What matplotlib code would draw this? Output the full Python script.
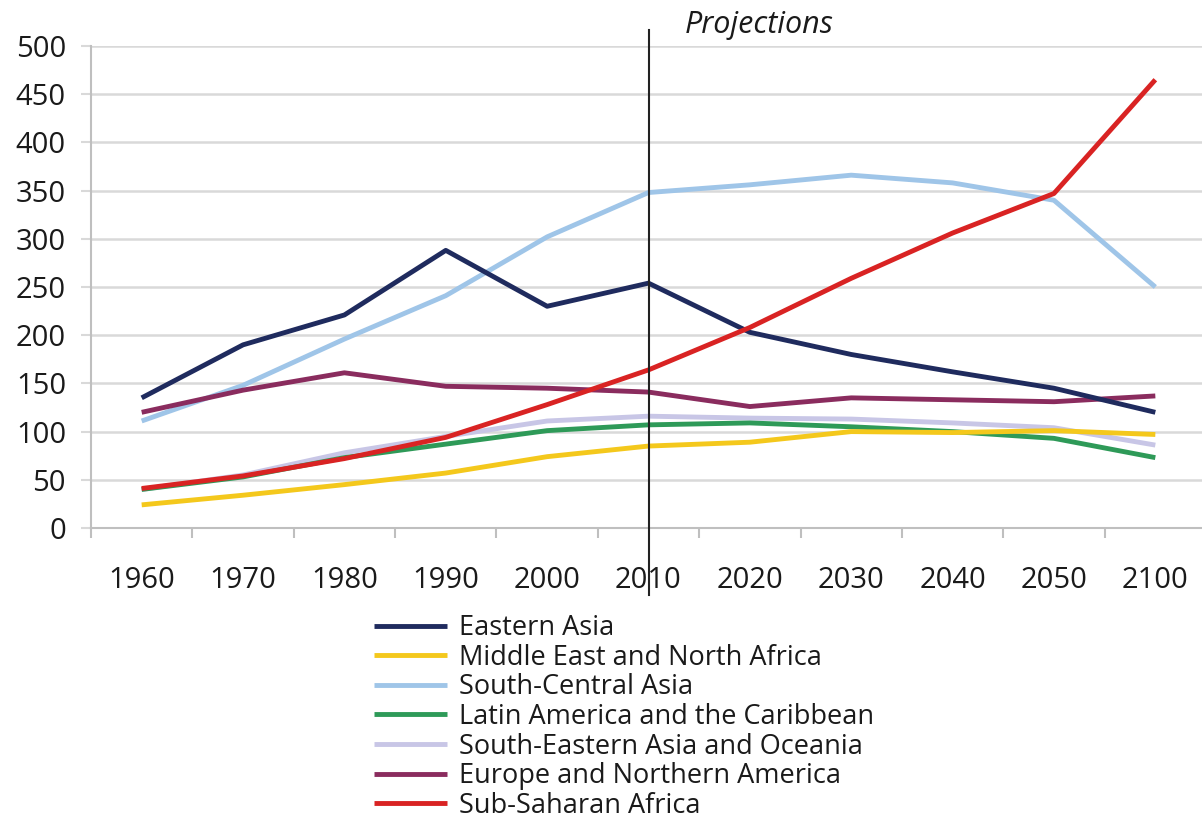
import matplotlib
matplotlib.use("Agg")
import matplotlib.pyplot as plt

plt.rcParams["font.family"] = ["Open Sans", "DejaVu Sans"]

years = ["1960", "1970", "1980", "1990", "2000", "2010", "2020", "2030", "2040", "2050", "2100"]

eastern_asia = [135, 190, 221, 288, 230, 254, 203, 180, 162, 145, 120]
mena = [24, 34, 45, 57, 74, 85, 89, 100, 99, 101, 97]
south_central_asia = [111, 148, 196, 241, 302, 348, 356, 366, 358, 340, 250]
latin_america = [40, 53, 73, 87, 101, 107, 109, 105, 100, 93, 73]
se_asia_oceania = [40, 55, 78, 95, 111, 116, 114, 113, 109, 104, 86]
europe_na = [120, 143, 161, 147, 145, 141, 126, 135, 133, 131, 137]
sub_saharan = [41, 54, 72, 94, 128, 164, 208, 259, 306, 347, 465]

series = [
    ("Eastern Asia", eastern_asia, "#1f2b5e"),
    ("Middle East and North Africa", mena, "#f4c81c"),
    ("South-Central Asia", south_central_asia, "#9fc5e8"),
    ("Latin America and the Caribbean", latin_america, "#2e9a58"),
    ("South-Eastern Asia and Oceania", se_asia_oceania, "#c8c6e6"),
    ("Europe and Northern America", europe_na, "#8a2c5e"),
    ("Sub-Saharan Africa", sub_saharan, "#d92323"),
]

# draw order: lower lines first so the main ones sit on top
draw_order = [4, 3, 1, 2, 5, 0, 6]

fig = plt.figure(figsize=(12.02, 8.22), dpi=100)
ax = fig.add_axes([91 / 1202, 294 / 822, 1115 / 1202, 482 / 822])

x = list(range(len(years)))
handles = {}
for i in draw_order:
    name, vals, color = series[i]
    (ln,) = ax.plot(x, vals, color=color, lw=3.5, label=name, solid_capstyle="butt")
    handles[i] = ln

ax.set_xlim(-0.5, 10.5)
ax.set_ylim(0, 500)
ax.set_yticks(range(0, 501, 50))
ax.set_xticks(x)
ax.set_xticklabels(years)
ax.set_xticks([i - 0.5 for i in range(len(years))], minor=True)

ax.grid(axis="y", color="#d9d9d9", lw=1.8)
ax.set_axisbelow(True)
for s in ["top", "right"]:
    ax.spines[s].set_visible(False)
ax.spines["left"].set_color("#bfbfbf")
ax.spines["bottom"].set_color("#bfbfbf")
ax.spines["left"].set_linewidth(1.5)
ax.spines["bottom"].set_linewidth(1.5)

ax.tick_params(axis="y", length=7, width=1.5, color="#d9d9d9", pad=11,
               labelsize=21, labelcolor="#1a1a1a")
ax.tick_params(axis="x", which="major", length=0, pad=27,
               labelsize=21, labelcolor="#1a1a1a")
ax.tick_params(axis="x", which="minor", length=7, width=1.5, color="#bfbfbf")

# projections divider at 2010
ax.plot([5, 5], [-70, 517], color="#222222", lw=1.5, clip_on=False, zorder=5)
ax.text(5.36, 513.5, "Projections", style="italic", fontsize=22, color="#1a1a1a",
        ha="left", va="baseline")

leg = fig.legend([handles[i] for i in range(len(series))], [s[0] for s in series],
                 loc="upper left", bbox_to_anchor=(374 / 1202, 1 - 614 / 822),
                 frameon=False, fontsize=19.5, handlelength=2.7, handletextpad=0.45,
                 labelspacing=0.06, borderpad=0, borderaxespad=0)
for t in leg.get_texts():
    t.set_color("#1a1a1a")

fig.savefig("out.png", dpi=100)
